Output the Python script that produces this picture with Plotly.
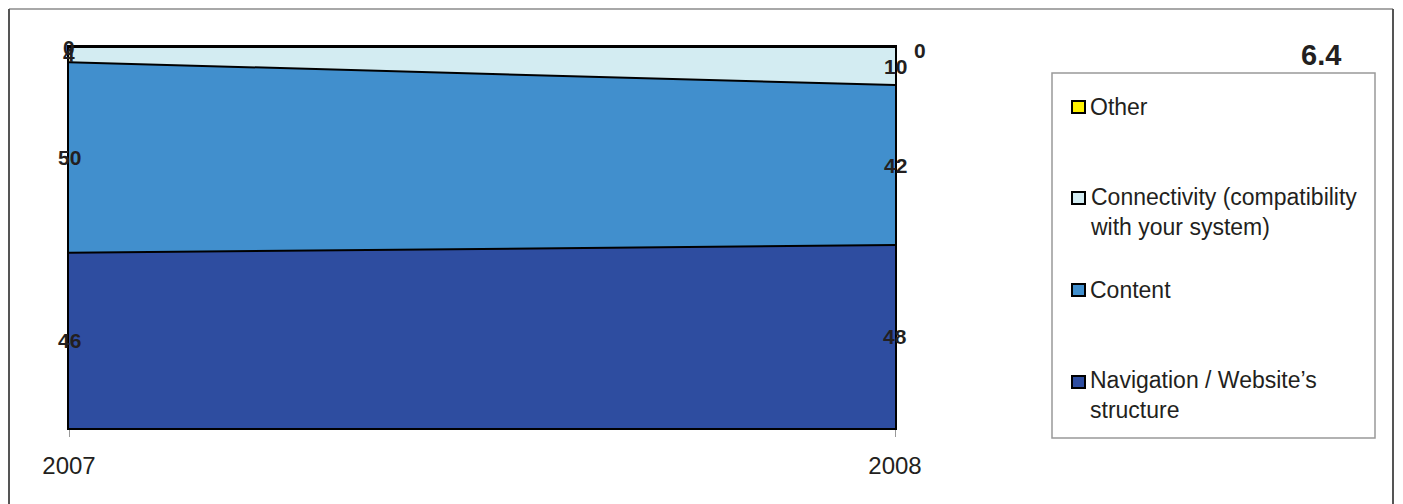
import plotly.graph_objects as go
import numpy as np

# data
years = [2007, 2008]
year_labels = ["2007", "2008"]
series_names = ["Navigation / Website’s structure", "Content",
                "Connectivity (compatibility with your system)", "Other"]
legend_texts = ["Navigation / Website’s<br>structure", "Content",
                "Connectivity (compatibility<br>with your system)", "Other"]
navigation = [46, 48]
content = [50, 42]
connectivity = [4, 10]
other = [0, 0]
colors = ["#2E4DA0", "#418FCD", "#D3ECF2", "#FFF200"]
chart_number = "6.4"

values = [navigation, content, connectivity, other]
FONT = "Liberation Sans, Arial, sans-serif"
TXT = "#231F20"

# page body has an 8px margin, so the figure is shrunk by that much
OFF = 8
W, H = 1403 - OFF, 504 - OFF
L, R, T, B = 69, 895, 47, 428   # plot area in screen pixels


def px(x):
    return (x - L) / (R - L)


def py(y):
    return (B - y) / (B - T)


fig = go.Figure()
for name, vals, col in zip(series_names, values, colors):
    fig.add_trace(go.Scatter(
        x=years, y=vals, name=name, stackgroup="one", mode="lines",
        line=dict(color="black", width=2), fillcolor=col,
        hoverinfo="skip", showlegend=False,
    ))

# data labels in the middle of each band
annotations = []
cum = np.zeros(len(years))
for vals in values:
    v = np.array(vals, dtype=float)
    mid = cum + v / 2
    cum = cum + v
    for i, yr in enumerate(years):
        xs, ys = 0, 0
        if v[i] == 0 and i == len(years) - 1:
            xs, ys = 25, -3
        annotations.append(dict(
            x=yr, y=mid[i], text=str(int(v[i])), showarrow=False,
            xshift=xs, yshift=ys,
            font=dict(family=FONT, size=21, color=TXT, weight="bold"),
        ))

# chart number
annotations.append(dict(
    xref="paper", yref="paper", x=px(1321), y=py(55), text=chart_number,
    showarrow=False, xanchor="center", yanchor="middle",
    font=dict(family=FONT, size=29, color=TXT, weight="bold"),
))

# manual legend
shapes = [
    dict(type="rect", xref="paper", yref="paper", x0=px(1052), x1=px(1375),
         y0=py(438), y1=py(73), line=dict(color="#999999", width=1.5),
         fillcolor="white", layer="below"),
    # outer frame (kept just inside the figure)
    dict(type="line", xref="paper", yref="paper", x0=px(9), x1=px(1393),
         y0=py(9), y1=py(9), line=dict(color="#A8A8A8", width=2)),
    dict(type="line", xref="paper", yref="paper", x0=px(9), x1=px(9),
         y0=py(9), y1=py(510), line=dict(color="#555555", width=2)),
    dict(type="line", xref="paper", yref="paper", x0=px(1393), x1=px(1393),
         y0=py(9), y1=py(510), line=dict(color="#555555", width=2)),
]
legend_rows = [(382, 395), (290, 290), (198, 212), (107, 107)]
for txt, col, (my, ty) in zip(legend_texts, colors, legend_rows):
    shapes.append(dict(
        type="rect", xref="paper", yref="paper",
        x0=px(1072), x1=px(1085), y0=py(my + 6), y1=py(my - 6),
        line=dict(color="black", width=2), fillcolor=col,
    ))
    annotations.append(dict(
        xref="paper", yref="paper", x=px(1088), y=py(ty), text=txt,
        showarrow=False, xanchor="left", yanchor="middle", align="left",
        font=dict(family=FONT, size=23, color=TXT),
    ))

fig.update_layout(
    width=W, height=H,
    margin=dict(l=L - OFF, r=W - (R - OFF), t=T - OFF, b=H - (B - OFF)),
    paper_bgcolor="white", plot_bgcolor="white",
    annotations=annotations, shapes=shapes,
    xaxis=dict(
        range=[years[0], years[-1]], tickvals=years, ticktext=year_labels,
        ticks="outside", ticklen=7, tickcolor="#999999", tickwidth=1,
        showline=True, mirror=True, linecolor="black", linewidth=2,
        showgrid=False, zeroline=False, ticklabelstandoff=8,
        tickfont=dict(family=FONT, size=24, color=TXT),
    ),
    yaxis=dict(
        range=[0, 100], showticklabels=False, showgrid=False, zeroline=False,
        showline=True, mirror=True, linecolor="black", linewidth=2, ticks="",
    ),
)

fig.write_html("out.html")
